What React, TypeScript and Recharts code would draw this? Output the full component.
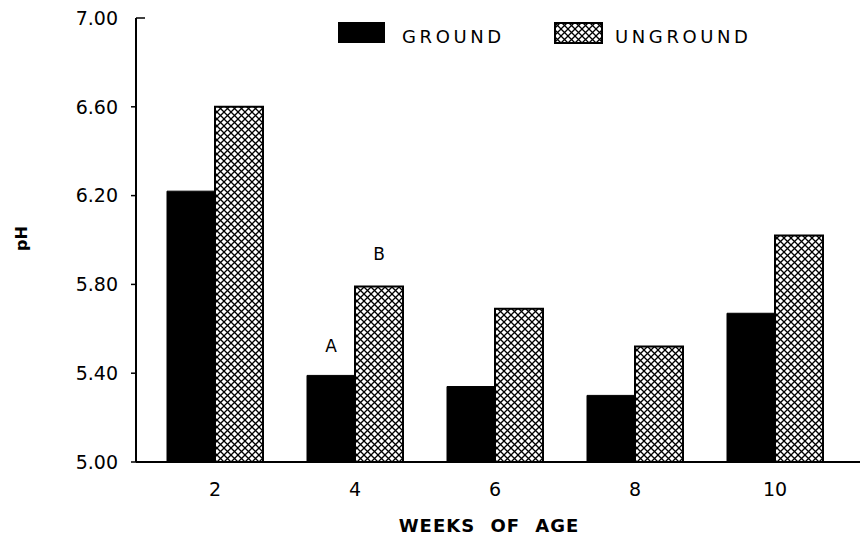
import React from 'react';
import { BarChart, Bar, XAxis, YAxis, Legend, LabelList } from 'recharts';

const weeks = ['2', '4', '6', '8', '10'];
const ground = [6.22, 5.39, 5.34, 5.3, 5.67];
const unground = [6.6, 5.79, 5.69, 5.52, 6.02];
const groundNotes = ['', 'A', '', '', ''];
const ungroundNotes = ['', 'B', '', '', ''];
const yTicks = [5.0, 5.4, 5.8, 6.2, 6.6, 7.0];

const data = weeks.map((w, i) => ({
  week: w,
  ground: ground[i],
  unground: unground[i],
  gNote: groundNotes[i],
  uNote: ungroundNotes[i],
}));

const FONT = '"DejaVu Sans", sans-serif';

const YTick = (props: any) => {
  const { x, y, payload } = props;
  const ax = x + 18;
  const top = payload.value === 7;
  return (
    <g>
      <line x1={top ? ax : ax - 5} x2={top ? ax + 9 : ax} y1={y} y2={y} stroke="#000" strokeWidth={1.5} />
      <text x={x} y={y} dy="0.36em" textAnchor="end" fontFamily={FONT} fontSize={19} fill="#000">
        {Number(payload.value).toFixed(2)}
      </text>
    </g>
  );
};

const LegendContent = () => (
  <div style={{ position: 'relative', width: 430, height: 30, fontFamily: FONT }}>
    <svg width={48} height={22} style={{ position: 'absolute', left: 0, top: 0 }}>
      <rect x={0} y={0} width={47} height={21} fill="#000" />
    </svg>
    <span style={{ position: 'absolute', left: 64, top: 5, fontSize: 18, letterSpacing: 3.6, lineHeight: '20px', color: '#000' }}>GROUND</span>
    <svg width={50} height={23} style={{ position: 'absolute', left: 216, top: 0 }}>
      <rect x={1} y={1} width={47} height={20} fill="url(#xhatch)" stroke="#000" strokeWidth={2} />
    </svg>
    <span style={{ position: 'absolute', left: 277, top: 5, fontSize: 18, letterSpacing: 3.6, lineHeight: '20px', color: '#000' }}>UNGROUND</span>
  </div>
);

export default function App() {
  return (
    <div style={{ position: 'absolute', left: 0, top: 0, width: 860, height: 535, background: '#fff' }}>
      <svg width={0} height={0} style={{ position: 'absolute' }}>
        <defs>
          <pattern id="xhatch" patternUnits="userSpaceOnUse" width={7} height={7}>
            <rect width={7} height={7} fill="#fff" />
            <path d="M0,0 L7,7 M7,0 L0,7" stroke="#000" strokeWidth={1.3} />
          </pattern>
        </defs>
      </svg>
      <BarChart
        width={860}
        height={535}
        data={data}
        margin={{ top: 18, right: 0, bottom: 0, left: 0 }}
        barGap={0}
        barSize={48}
      >
        <XAxis
          dataKey="week"
          height={73}
          padding={{ left: 9, right: 15 }}
          axisLine={{ stroke: '#000', strokeWidth: 2 }}
          tickLine={false}
          tickSize={0}
          tickMargin={21}
          tick={{ fill: '#000', fontSize: 19, fontFamily: FONT }}
          label={{
            value: 'WEEKS OF AGE',
            position: 'insideBottom',
            offset: 3,
            dx: -9,
            fill: '#000',
            fontSize: 18,
            fontWeight: 'bold',
            fontFamily: FONT,
            style: { wordSpacing: 8, letterSpacing: 1 },
          }}
        />
        <YAxis
          width={136}
          domain={[5, 7]}
          ticks={yTicks}
          interval={0}
          axisLine={{ stroke: '#000', strokeWidth: 2 }}
          tickLine={false}
          tickSize={5}
          tickMargin={13}
          tick={<YTick />}
          label={{
            value: 'pH',
            angle: -90,
            position: 'insideLeft',
            offset: 21,
            dy: 11,
            fill: '#000',
            fontSize: 16,
            fontWeight: 'bold',
            fontFamily: FONT,
          }}
        />
        <Legend
          layout="horizontal"
          verticalAlign="middle"
          align="center"
          content={<LegendContent />}
          wrapperStyle={{ left: 338, top: 22, width: 430, height: 30 }}
        />
        <Bar dataKey="ground" fill="#000" stroke="#000" strokeWidth={1} isAnimationActive={false}>
          <LabelList dataKey="gNote" position="top" offset={23} fill="#000" fontSize={17} fontFamily={FONT} />
        </Bar>
        <Bar dataKey="unground" fill="url(#xhatch)" stroke="#000" strokeWidth={2} isAnimationActive={false}>
          <LabelList dataKey="uNote" position="top" offset={27} fill="#000" fontSize={17} fontFamily={FONT} />
        </Bar>
      </BarChart>
    </div>
  );
}
